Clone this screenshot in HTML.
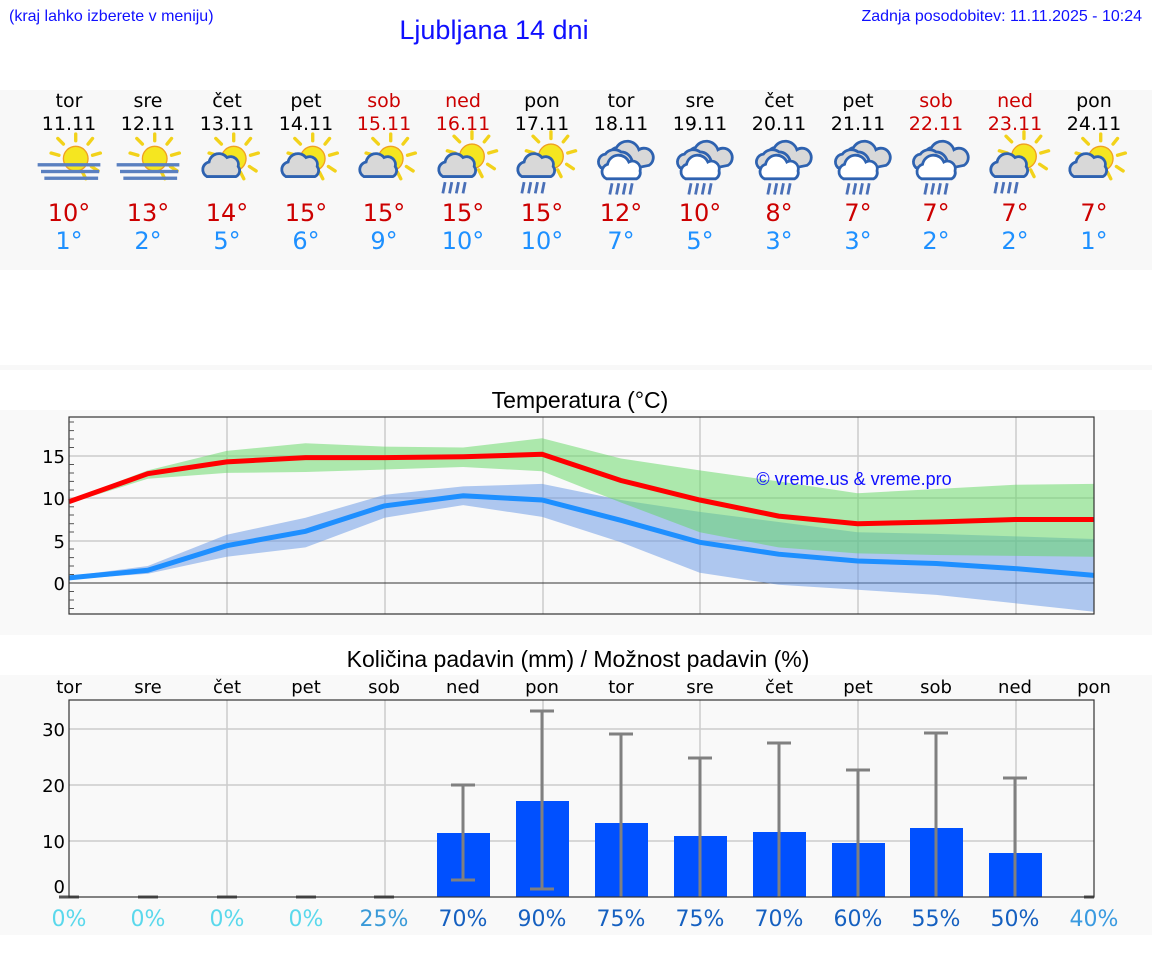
<!DOCTYPE html>
<html><head><meta charset="utf-8"><style>
html,body{margin:0;padding:0;background:#fff;}
svg{display:block;font-family:"DejaVu Sans","Liberation Sans",sans-serif;}
.a{font-family:"Liberation Sans",sans-serif;}
</style></head><body>
<svg width="1152" height="975" viewBox="0 0 1152 975" xmlns="http://www.w3.org/2000/svg">
<defs>
<g id="sun">
 <g stroke="#f2d21a" stroke-width="3" stroke-linecap="round">
  <line x1="6" y1="6" x2="6" y2="0"/><line x1="17" y1="9" x2="21" y2="4"/><line x1="21" y1="19" x2="28" y2="17"/>
  <line x1="20" y1="29" x2="26" y2="33"/><line x1="-5" y1="9" x2="-10" y2="4"/><line x1="-9" y1="19" x2="-16" y2="17"/>
  <line x1="12" y1="34" x2="15" y2="40"/>
 </g>
 <circle cx="6" cy="22" r="11" fill="#f5e620" stroke="#f0a020" stroke-width="1.2"/>
</g>
<g id="cloud">
 <path d="M-18,38 a7,7 0 0 1 2,-13 a9,9 0 0 1 16,-4 a7,7 0 0 1 10,8 a6,6 0 0 1 -2,9 z" fill="#d8d8d8" stroke="#2e62b0" stroke-width="2.5"/>
</g>
<g id="fog">
 <use href="#sun"/>
 <rect x="-28" y="26" width="56" height="3" fill="#5a80c0"/>
 <rect x="-25" y="32" width="52" height="3" fill="#5a80c0"/>
 <rect x="-22" y="38" width="48" height="3" fill="#5a80c0"/>
</g>
<g id="pc"><use href="#sun"/><use href="#cloud"/></g>
<g id="sr"><use href="#sun" transform="translate(2,-2)"/><use href="#cloud"/>
 <g stroke="#4a70b8" stroke-width="2.5"><line x1="-16" y1="43" x2="-18" y2="53"/><line x1="-10" y1="43" x2="-12" y2="53"/><line x1="-4" y1="43" x2="-6" y2="53"/><line x1="2" y1="43" x2="0" y2="53"/></g></g>
<g id="rc">
 <path d="M-10,22 a8,8 0 0 1 6,-10 a11,11 0 0 1 20,2 a8,8 0 0 1 9,14 l-10,2 z" fill="#d8d8d8" stroke="#2e62b0" stroke-width="2.5"/>
 <path d="M-18,30 a7,7 0 0 1 4,-12 a10,10 0 0 1 14,-2 a10,10 0 0 1 10,10 l-8,6 z" fill="#d8d8d8" stroke="#2e62b0" stroke-width="2.5"/>
 <path d="M-13,40 a7,7 0 0 1 1,-13 a10,10 0 0 1 19,-2 a7,7 0 0 1 10,8 a6,6 0 0 1 -3,7 z" fill="#fff" stroke="#2e62b0" stroke-width="2.5"/>
 <g stroke="#4a70b8" stroke-width="2.5"><line x1="-8" y1="44" x2="-10" y2="54"/><line x1="-2" y1="44" x2="-4" y2="54"/><line x1="4" y1="44" x2="2" y2="54"/><line x1="10" y1="44" x2="8" y2="54"/></g>
</g>
</defs>

<text class="a" x="9" y="21" font-size="16" fill="#1010ff">(kraj lahko izberete v meniju)</text>
<text class="a" x="494" y="39" font-size="27" fill="#1010ff" text-anchor="middle">Ljubljana 14 dni</text>
<text class="a" x="1142" y="21" font-size="16" fill="#1010ff" text-anchor="end">Zadnja posodobitev: 11.11.2025 - 10:24</text>

<rect x="0" y="90" width="1152" height="180" fill="#f8f8f8"/>
<rect x="0" y="365" width="1152" height="5" fill="#f8f8f8"/>
<rect x="0" y="410" width="1152" height="225" fill="#f9f9f9"/>
<rect x="0" y="675" width="1152" height="260" fill="#f9f9f9"/>

<g font-size="19" text-anchor="middle">
<g fill="#000"><text x="69" y="107">tor</text><text x="148" y="107">sre</text><text x="227" y="107">čet</text><text x="306" y="107">pet</text><text x="542" y="107">pon</text><text x="621" y="107">tor</text><text x="700" y="107">sre</text><text x="779" y="107">čet</text><text x="858" y="107">pet</text><text x="1094" y="107">pon</text>
<text x="69" y="130">11.11</text><text x="148" y="130">12.11</text><text x="227" y="130">13.11</text><text x="306" y="130">14.11</text><text x="542" y="130">17.11</text><text x="621" y="130">18.11</text><text x="700" y="130">19.11</text><text x="779" y="130">20.11</text><text x="858" y="130">21.11</text><text x="1094" y="130">24.11</text></g>
<g fill="#cc0000"><text x="384" y="107">sob</text><text x="463" y="107">ned</text><text x="936" y="107">sob</text><text x="1015" y="107">ned</text>
<text x="384" y="130">15.11</text><text x="463" y="130">16.11</text><text x="936" y="130">22.11</text><text x="1015" y="130">23.11</text></g>
</g>

<g>
<use href="#fog" transform="translate(69,134) scale(1.12)"/><use href="#fog" transform="translate(148,134) scale(1.12)"/><use href="#pc" transform="translate(227,134) scale(1.12)"/><use href="#pc" transform="translate(306,134) scale(1.12)"/><use href="#pc" transform="translate(384,134) scale(1.12)"/>
<use href="#sr" transform="translate(463,134) scale(1.12)"/><use href="#sr" transform="translate(542,134) scale(1.12)"/><use href="#rc" transform="translate(621,134) scale(1.12)"/><use href="#rc" transform="translate(700,134) scale(1.12)"/><use href="#rc" transform="translate(779,134) scale(1.12)"/><use href="#rc" transform="translate(858,134) scale(1.12)"/><use href="#rc" transform="translate(936,134) scale(1.12)"/><use href="#sr" transform="translate(1015,134) scale(1.12)"/><use href="#pc" transform="translate(1094,134) scale(1.12)"/>
</g>

<g font-size="24" text-anchor="middle">
<g fill="#cc0000"><text x="69" y="221">10°</text><text x="148" y="221">13°</text><text x="227" y="221">14°</text><text x="306" y="221">15°</text><text x="384" y="221">15°</text><text x="463" y="221">15°</text><text x="542" y="221">15°</text><text x="621" y="221">12°</text><text x="700" y="221">10°</text><text x="779" y="221">8°</text><text x="858" y="221">7°</text><text x="936" y="221">7°</text><text x="1015" y="221">7°</text><text x="1094" y="221">7°</text></g>
<g fill="#1e90ff"><text x="69" y="249">1°</text><text x="148" y="249">2°</text><text x="227" y="249">5°</text><text x="306" y="249">6°</text><text x="384" y="249">9°</text><text x="463" y="249">10°</text><text x="542" y="249">10°</text><text x="621" y="249">7°</text><text x="700" y="249">5°</text><text x="779" y="249">3°</text><text x="858" y="249">3°</text><text x="936" y="249">2°</text><text x="1015" y="249">2°</text><text x="1094" y="249">1°</text></g>
</g>

<!-- temperature chart -->
<text class="a" x="580" y="408" font-size="23" text-anchor="middle">Temperatura (°C)</text>
<g stroke="#cccccc" stroke-width="1.5">
<line x1="69" y1="456" x2="1094" y2="456"/><line x1="69" y1="498" x2="1094" y2="498"/><line x1="69" y1="541" x2="1094" y2="541"/>
<line x1="227" y1="417" x2="227" y2="614"/><line x1="385" y1="417" x2="385" y2="614"/><line x1="543" y1="417" x2="543" y2="614"/><line x1="700" y1="417" x2="700" y2="614"/><line x1="858" y1="417" x2="858" y2="614"/><line x1="1016" y1="417" x2="1016" y2="614"/>
</g>
<line x1="69" y1="583" x2="1094" y2="583" stroke="#333" stroke-width="1"/>
<polygon fill="rgba(100,150,230,0.5)" points="69,576.2 147.8,566 226.7,534.7 305.5,517.8 384.4,494.9 463.2,486.4 542.1,483.9 620.9,500 699.8,511.9 778.6,522 857.5,532.2 936.3,533.9 1015.2,536.4 1094,539 1094,611.8 1015.2,603.3 936.3,594.9 857.5,589.8 778.6,584.7 699.8,572.8 620.9,542.3 542.1,516.9 463.2,505.1 384.4,517.8 305.5,547.4 226.7,556.7 147.8,573.7 69,579.6"/>
<polygon fill="rgba(95,215,95,0.5)" points="69,500 147.8,470.4 226.7,450.9 305.5,443.2 384.4,446.6 463.2,447.5 542.1,438.2 620.9,458.5 699.8,470.4 778.6,481.4 857.5,493.2 936.3,489 1015.2,484.7 1094,483.9 1094,556.7 1015.2,555.9 936.3,555 857.5,553.4 778.6,547.4 699.8,532.2 620.9,502.5 542.1,471.2 463.2,467 384.4,469.5 305.5,472 226.7,472.9 147.8,478.8 69,503.4"/>
<polyline fill="none" stroke="#1e8fff" stroke-width="5" points="69,577.9 147.8,570.3 226.7,545.7 305.5,531.3 384.4,505.9 463.2,495.8 542.1,500 620.9,520.3 699.8,542.3 778.6,554.2 857.5,561 936.3,563.5 1015.2,568.6 1094,575.4"/>
<polyline fill="none" stroke="#ff0000" stroke-width="5" points="69,501.7 147.8,473.7 226.7,461.9 305.5,457.6 384.4,457.6 463.2,456.8 542.1,454.3 620.9,480.5 699.8,500 778.6,516.1 857.5,523.7 936.3,522 1015.2,519.5 1094,519.5"/>
<rect x="69" y="417" width="1025" height="197" fill="none" stroke="#333" stroke-width="1.2"/>
<g stroke="#555" stroke-width="1">
<line x1="69" y1="600" x2="74" y2="600"/><line x1="69" y1="591.5" x2="74" y2="591.5"/><line x1="69" y1="608.5" x2="74" y2="608.5"/>
<line x1="69" y1="574.5" x2="74" y2="574.5"/><line x1="69" y1="566" x2="74" y2="566"/><line x1="69" y1="557.6" x2="74" y2="557.6"/><line x1="69" y1="549" x2="74" y2="549"/>
<line x1="69" y1="532" x2="74" y2="532"/><line x1="69" y1="523.7" x2="74" y2="523.7"/><line x1="69" y1="515" x2="74" y2="515"/><line x1="69" y1="506.8" x2="74" y2="506.8"/>
<line x1="69" y1="490" x2="74" y2="490"/><line x1="69" y1="481.4" x2="74" y2="481.4"/><line x1="69" y1="473" x2="74" y2="473"/><line x1="69" y1="464.5" x2="74" y2="464.5"/>
<line x1="69" y1="447.5" x2="74" y2="447.5"/><line x1="69" y1="439" x2="74" y2="439"/><line x1="69" y1="430.6" x2="74" y2="430.6"/><line x1="69" y1="422" x2="74" y2="422"/>
</g>
<g font-size="18" text-anchor="end" fill="#000"><text x="65" y="463">15</text><text x="65" y="505">10</text><text x="65" y="548">5</text><text x="65" y="590">0</text></g>
<text class="a" x="854" y="485" font-size="18" fill="#1010ff" text-anchor="middle">© vreme.us &amp; vreme.pro</text>

<!-- precipitation chart -->
<text class="a" x="578" y="667" font-size="23" text-anchor="middle">Količina padavin (mm) / Možnost padavin (%)</text>
<g font-size="18" text-anchor="middle" fill="#000">
<text x="69" y="693">tor</text><text x="148" y="693">sre</text><text x="227" y="693">čet</text><text x="306" y="693">pet</text><text x="384" y="693">sob</text><text x="463" y="693">ned</text><text x="542" y="693">pon</text><text x="621" y="693">tor</text><text x="700" y="693">sre</text><text x="779" y="693">čet</text><text x="858" y="693">pet</text><text x="936" y="693">sob</text><text x="1015" y="693">ned</text><text x="1094" y="693">pon</text>
</g>
<g stroke="#cccccc" stroke-width="1.5">
<line x1="69" y1="729" x2="1094" y2="729"/><line x1="69" y1="785" x2="1094" y2="785"/><line x1="69" y1="841" x2="1094" y2="841"/>
<line x1="227" y1="700" x2="227" y2="897"/><line x1="385" y1="700" x2="385" y2="897"/><line x1="543" y1="700" x2="543" y2="897"/><line x1="700" y1="700" x2="700" y2="897"/><line x1="858" y1="700" x2="858" y2="897"/><line x1="1016" y1="700" x2="1016" y2="897"/>
</g>
<g fill="#0050ff">
<rect x="437" y="833" width="53" height="64"/><rect x="516" y="801" width="53" height="96"/><rect x="595" y="823" width="53" height="74"/><rect x="674" y="836" width="53" height="61"/><rect x="753" y="832" width="53" height="65"/><rect x="832" y="843" width="53" height="54"/><rect x="910" y="828" width="53" height="69"/><rect x="989" y="853" width="53" height="44"/>
</g>
<g stroke="#808080" stroke-width="3">
<line x1="463" y1="785" x2="463" y2="880"/><line x1="451" y1="785" x2="475" y2="785"/><line x1="451" y1="880" x2="475" y2="880"/>
<line x1="542" y1="711" x2="542" y2="889"/><line x1="530" y1="711" x2="554" y2="711"/><line x1="530" y1="889" x2="554" y2="889"/>
<line x1="621" y1="734" x2="621" y2="897"/><line x1="609" y1="734" x2="633" y2="734"/>
<line x1="700" y1="758" x2="700" y2="897"/><line x1="688" y1="758" x2="712" y2="758"/>
<line x1="779" y1="743" x2="779" y2="897"/><line x1="767" y1="743" x2="791" y2="743"/>
<line x1="858" y1="770" x2="858" y2="897"/><line x1="846" y1="770" x2="870" y2="770"/>
<line x1="936" y1="733" x2="936" y2="897"/><line x1="924" y1="733" x2="948" y2="733"/>
<line x1="1015" y1="778" x2="1015" y2="897"/><line x1="1003" y1="778" x2="1027" y2="778"/>
</g>
<g stroke="#555" stroke-width="3">
<line x1="59" y1="897" x2="79" y2="897"/><line x1="138" y1="897" x2="158" y2="897"/><line x1="217" y1="897" x2="237" y2="897"/><line x1="296" y1="897" x2="316" y2="897"/><line x1="374" y1="897" x2="394" y2="897"/><line x1="1084" y1="897" x2="1094" y2="897"/>
</g>
<rect x="69" y="700" width="1025" height="197" fill="none" stroke="#333" stroke-width="1.2"/>
<g font-size="18" text-anchor="end" fill="#000"><text x="65" y="736">30</text><text x="65" y="792">20</text><text x="65" y="848">10</text><text x="65" y="893">0</text></g>
<g font-size="22" text-anchor="middle">
<g fill="#5ad8ec"><text x="69" y="926">0%</text><text x="148" y="926">0%</text><text x="227" y="926">0%</text><text x="306" y="926">0%</text></g>
<text x="384" y="926" fill="#3a9ad8">25%</text>
<g fill="#1560c0"><text x="463" y="926">70%</text><text x="542" y="926">90%</text><text x="621" y="926">75%</text><text x="700" y="926">75%</text><text x="779" y="926">70%</text><text x="858" y="926">60%</text><text x="936" y="926">55%</text><text x="1015" y="926">50%</text></g>
<text x="1094" y="926" fill="#3a9ae0">40%</text>
</g>
</svg>
</body></html>
